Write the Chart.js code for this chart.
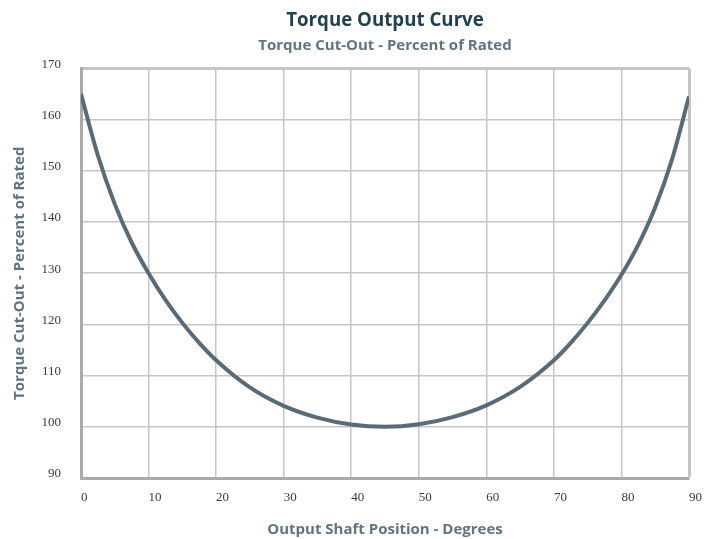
<!DOCTYPE html>
<html>
<head>
<meta charset="utf-8">
<script src="https://cdn.jsdelivr.net/npm/chart.js@4"></script>
<style>
  html, body { margin: 0; padding: 0; background: #ffffff; }
  #wrap { width: 711px; height: 539px; }
</style>
</head>
<body>
<div id="wrap"><canvas id="myChart" width="711" height="539"></canvas></div>
<script>
// values
const degrees = [0, 2.5, 5, 7.5, 10, 12.5, 15, 17.5, 20, 25, 30, 35, 40, 45, 50, 55, 60, 65, 70, 72.5, 75, 77.5, 80, 82.5, 85, 87.5, 90];
const torque  = [165, 153, 143.5, 136, 130, 124.8, 120.3, 116.4, 113, 107.7, 104.1, 101.8, 100.45, 100, 100.5, 101.9, 104.2, 107.8, 113, 116.4, 120.3, 124.7, 129.7, 135.6, 142.9, 152.3, 164.5];
const xTicks = [0, 10, 20, 30, 40, 50, 60, 70, 80, 90];
const yTicks = [90, 100, 110, 120, 130, 140, 150, 160, 170];

const titleText = 'Torque Output Curve';
const subtitleText = 'Torque Cut-Out - Percent of Rated';
const xTitle = 'Output Shaft Position - Degrees';
const yTitle = 'Torque Cut-Out - Percent of Rated';

const frameColor = '#aaaaae';
const gridColor = '#c6c6c8';

const points = degrees.map((d, i) => ({x: d, y: torque[i]}));

const ctx = document.getElementById('myChart').getContext('2d');
let myChart = new Chart(ctx, {
    type: 'line',
    data: {
        datasets: [{
            label: 'Torque',
            data: points,
            borderColor: '#586b77',
            borderWidth: 4,
            pointRadius: 0,
            fill: false,
            cubicInterpolationMode: 'monotone'
        }]
    },
    options: {
        responsive: false,
        animation: false,
        layout: { padding: { left: 0, right: 22, top: 0, bottom: 0 } },
        plugins: {
            legend: { display: false },
            tooltip: { enabled: false },
            title: {
                display: true,
                text: titleText,
                fullSize: false,
                color: '#22404f',
                font: { family: 'Open Sans', size: 18.7, weight: 'bold' },
                padding: { top: 9, bottom: 5 }
            },
            subtitle: {
                display: true,
                text: subtitleText,
                fullSize: false,
                color: '#607482',
                font: { family: 'Open Sans', size: 15, weight: 'bold' },
                padding: { top: 0, bottom: 14 }
            }
        },
        scales: {
            x: {
                type: 'linear',
                min: 0,
                max: 90,
                afterBuildTicks: (scale) => { scale.ticks = xTicks.map(v => ({value: v})); },
                afterFit: (scale) => {
                    scale.height = 61;
                    scale.paddingRight = 10;  // labels hang right of the last tick, keep the frame where it is
                },
                ticks: {
                    align: 'start',
                    padding: 12,
                    color: '#3a3a3a',
                    font: { family: 'Liberation Serif', size: 13 }
                },
                grid: {
                    drawTicks: false,
                    color: gridColor,
                    lineWidth: (c) => (c.index === xTicks.length - 1 ? 3 : 1.5)
                },
                border: { color: frameColor, width: 3 },
                title: {
                    display: true,
                    text: xTitle,
                    color: '#607482',
                    font: { family: 'Open Sans', size: 15, weight: 'bold' },
                    padding: { top: 4, bottom: 0 }
                }
            },
            y: {
                min: 90,
                max: 170,
                afterBuildTicks: (scale) => { scale.ticks = yTicks.map(v => ({value: v})); },
                afterFit: (scale) => { scale.width = 81; },
                ticks: {
                    padding: 20,
                    labelOffset: -4,
                    color: '#3a3a3a',
                    font: { family: 'Liberation Serif', size: 13 }
                },
                grid: {
                    drawTicks: false,
                    color: gridColor,
                    lineWidth: (c) => (c.index === yTicks.length - 1 ? 3 : 1.5)
                },
                border: { color: frameColor, width: 3 },
                title: {
                    display: true,
                    text: yTitle,
                    color: '#607482',
                    font: { family: 'Open Sans', size: 15, weight: 'bold' },
                    padding: { top: 11, bottom: 4 }
                }
            }
        }
    }
});
</script>
</body>
</html>
